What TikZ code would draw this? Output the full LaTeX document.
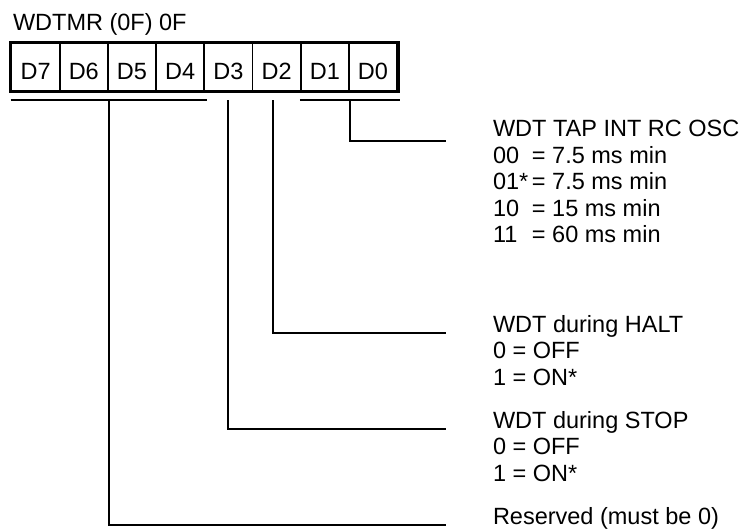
\documentclass[tikz,border=0pt]{standalone}
\usepackage{fontspec}
\setmainfont{Liberation Sans}
\begin{document}
\begin{tikzpicture}[x=1pt, y=-1pt, line width=2pt,
  every node/.style={font=\fontsize{23.5}{26.5}\selectfont},
  bit/.style={draw, line width=1.8pt, minimum width=48.2pt, minimum height=47pt, inner sep=0pt, text height=26pt, text depth=0pt},
  field/.style={anchor=base west, align=left, inner sep=0pt}]
\useasboundingbox (0,0) rectangle (744,529);

\node[anchor=base west, inner sep=0pt] (title) at (12,31) {WDTMR (0F) 0F};

% register bits D7 ... D0
\foreach \b [count=\i from 0] in {7,...,0}
  \node[bit] (c\b) at (11.5+48.2*\i+24.1,67) {D\b};
\draw[line width=3pt] (c7.north west) rectangle (c0.south east);

% field descriptions (placed by the baseline of their last line)
\node[field] (osc) at (492,243) {WDT TAP INT RC OSC\\
  \makebox[39pt][l]{00}= 7.5 ms min\\
  \makebox[39pt][l]{01*}= 7.5 ms min\\
  \makebox[39pt][l]{10}= 15 ms min\\
  \makebox[39pt][l]{11}= 60 ms min};
\node[field] (halt) at (492,385) {WDT during HALT\\ 0 = OFF\\ 1 = ON*};
\node[field] (stop) at (492,481) {WDT during STOP\\ 0 = OFF\\ 1 = ON*};
\node[field] (rsv) at (492,524) {Reserved (must be 0)};

\coordinate (e1) at (446,141);
\coordinate (e2) at (446,333);
\coordinate (e3) at (446,429);
\coordinate (e4) at (446,525);

% brackets and leaders
\draw ([yshift=-9pt]c7.south west) -- ([xshift=2pt,yshift=-9pt]c4.south east) coordinate[pos=0.5] (b74);
\draw ([yshift=-9pt]c1.south west) -- ([xshift=2pt,yshift=-9pt]c0.south east) coordinate[pos=0.5] (b10);
\draw (b10) |- (e1);
\draw ([xshift=-3.5pt,yshift=-9pt]c2.south) |- (e2);
\draw ([yshift=-9pt]c3.south) |- (e3);
\draw (b74) |- (e4);
\end{tikzpicture}
\end{document}
